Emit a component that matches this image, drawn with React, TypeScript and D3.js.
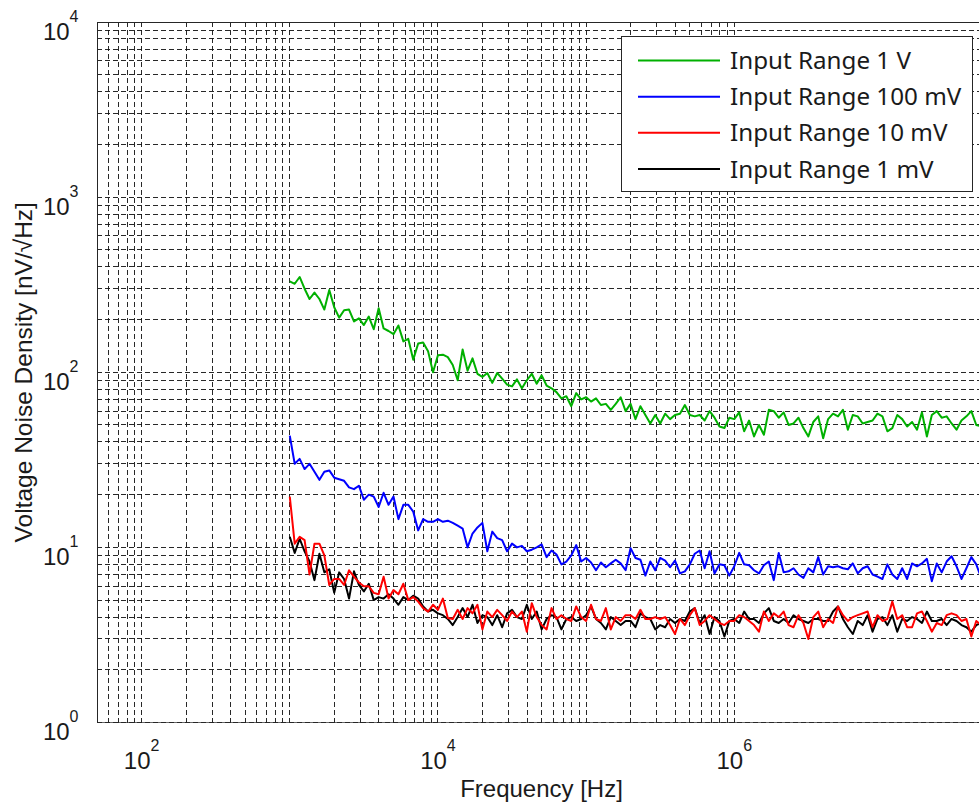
import React from "react";
import * as d3 from "d3";

// Sampling grid: log-spaced frequencies starting at 1 kHz, 30 points per decade
const FREQ_START = 1000;
const POINTS_PER_DECADE = 30;

const range1V = [
  330, 320, 350, 300, 262, 285, 262, 228, 295, 235, 205, 226, 228, 195, 203, 186, 208, 176, 232, 178,
  172, 165, 185, 150, 155, 118, 146, 148, 132, 100, 125, 126, 122, 110, 90, 135, 102, 120, 98, 94,
  99, 87, 99, 92, 85, 83, 91, 81, 90, 98, 86, 96, 84, 81, 77, 71, 73, 64, 76, 70,
  72, 68, 71, 65, 66, 61, 66, 72, 60, 66, 54, 64, 57, 51, 57, 51, 58, 54, 57, 58,
  65, 57, 56, 57, 53, 60, 55, 49, 48, 55, 54, 59, 46, 53, 43, 50, 44, 61, 60, 55,
  59, 50, 51, 55, 48, 43, 52, 56, 42, 54, 58, 56, 61, 47, 57, 56, 51, 52, 53, 58,
  56, 46, 48, 57, 54, 49, 52, 47, 59, 43, 57, 60, 55, 56, 51, 47, 53, 56, 60, 50,
  49,
];

const range100mV = [
  43.5, 30, 32, 28, 30, 27, 24.3, 27, 27.5, 25, 24.5, 24, 22, 21.5, 22.5, 18.7, 20, 19.5, 17, 20.5,
  17.5, 19.5, 14.5, 17.5, 17.5, 16, 12.5, 14.5, 14, 14, 14.5, 14, 14.2, 13.8, 13.3, 12.8, 10, 12, 13, 13.8,
  9.5, 12.3, 11.3, 11, 9.5, 10.5, 10, 10.2, 9.5, 9.7, 10, 10.4, 8.8, 9.6, 9.1, 8.0, 8.3, 9.0, 10.3, 8.3,
  8.7, 8.2, 7.4, 8.2, 7.7, 8.1, 8.5, 8.1, 7.4, 9.9, 8.7, 8.5, 6.9, 8.3, 7.4, 8.7, 8.4, 7.7, 8.4, 7.1,
  7.3, 8.0, 9.2, 9.6, 7.6, 9.5, 7.1, 8.0, 7.9, 6.9, 7.8, 9.3, 8.0, 7.9, 7.4, 7.1, 7.9, 8.3, 6.5, 9.3,
  7.2, 7.3, 7.6, 7.0, 6.7, 7.6, 7.2, 8.8, 7.0, 7.8, 7.7, 7.8, 7.6, 7.5, 8.1, 7.1, 7.6, 7.8, 7.0, 6.8,
  6.6, 8.0, 7.0, 6.6, 7.6, 6.6, 8.1, 7.8, 8.1, 8.6, 6.4, 8.1, 7.2, 8.3, 8.9, 7.8, 6.6, 7.6, 8.8, 8.0,
  6.7,
];

const range10mV = [
  19.5, 10.5, 11.5, 11, 7.0, 10.5, 10.5, 9.0, 6.1, 6.6, 6.6, 6.1, 7.4, 6.8, 6.3, 6.0, 6.0, 5.5, 5.4, 6.8,
  5.1, 5.7, 5.4, 6.2, 5.0, 5.2, 4.9, 4.5, 4.3, 4.7, 4.4, 5.1, 3.95, 3.9, 4.4, 3.9, 4.5, 4.2, 4.7, 3.4,
  4.3, 4.0, 4.4, 4.1, 3.8, 4.3, 4.0, 4.3, 3.3, 4.8, 4.0, 3.6, 3.4, 4.5, 3.9, 4.1, 3.9, 3.8, 4.6, 4.0,
  3.8, 4.7, 3.9, 3.8, 4.5, 3.4, 4.0, 3.8, 4.1, 4.1, 3.9, 4.4, 3.9, 3.9, 4.0, 3.9, 4.0, 3.6, 3.2, 3.9,
  3.6, 4.1, 4.5, 3.6, 3.8, 4.1, 3.9, 3.7, 3.6, 3.8, 3.8, 4.1, 4.0, 3.8, 3.6, 3.3, 4.3, 3.8, 4.2, 4.0,
  4.3, 3.6, 3.5, 4.1, 3.7, 3.0, 4.0, 4.3, 3.5, 3.9, 3.7, 4.6, 4.1, 3.8, 4.0, 4.1, 4.2, 4.3, 3.5, 4.1,
  3.8, 3.9, 4.9, 3.9, 4.1, 3.5, 3.5, 4.2, 4.3, 3.8, 3.3, 3.7, 3.6, 4.1, 4.2, 4.1, 3.8, 3.9, 3.1, 3.8,
  3.6,
];

const range1mV = [
  11.5, 9.3, 11.2, 9.5, 8.3, 6.5, 9.2, 7.2, 7.5, 5.5, 7.2, 6.6, 5.1, 7.3, 6.1, 5.6, 6.2, 5.0, 5.2, 5.1,
  5.4, 5.1, 4.7, 5.2, 5.0, 5.3, 5.1, 4.6, 4.3, 4.4, 4.2, 4.1, 3.9, 3.6, 4.0, 4.5, 4.0, 4.7, 3.7, 4.1,
  4.0, 3.6, 4.1, 3.5, 4.2, 4.4, 4.0, 3.9, 4.7, 3.9, 4.3, 3.4, 3.9, 4.1, 4.0, 3.4, 3.9, 4.0, 3.8, 3.9,
  4.1, 4.6, 3.9, 3.7, 3.4, 4.0, 3.8, 3.6, 3.8, 3.8, 3.5, 4.2, 4.0, 3.9, 3.4, 3.6, 3.5, 3.9, 3.7, 3.9,
  3.8, 4.3, 4.5, 3.7, 4.1, 3.2, 4.0, 3.8, 3.1, 3.8, 3.9, 3.7, 4.3, 3.9, 3.9, 3.7, 4.2, 4.5, 3.8, 3.7,
  3.9, 3.7, 4.1, 3.9, 3.8, 3.7, 3.9, 3.9, 3.8, 3.8, 4.3, 4.6, 3.9, 3.5, 3.2, 3.8, 3.6, 4.1, 3.3, 3.9,
  4.0, 3.6, 4.1, 3.3, 3.9, 3.8, 4.0, 3.9, 3.7, 4.3, 3.8, 3.8, 3.9, 3.6, 3.9, 3.8, 3.6, 3.5, 3.3, 3.6,
  3.7,
];

const seriesNames = ["Input Range 1 V", "Input Range 100 mV", "Input Range 10 mV", "Input Range 1 mV"];
const seriesColors = ["#00b000", "#0000ff", "#ff0000", "#000000"];
const seriesValues = [range1V, range100mV, range10mV, range1mV];
const drawOrder = [0, 1, 3, 2];

const xDomain = [50, 5e7];
const yDomain = [1, 1e4];
const xMajorExponents = [2, 4, 6];
const yMajorExponents = [0, 1, 2, 3, 4];
const xGridMax = 1e6;

const xLabel = "Frequency [Hz]";
const yLabel = "Voltage Noise Density [nV/\u221AHz]";

const W = 979;
const H = 802;
const left = 97;
const right = 986;
const top = 22;
const bottom = 722.5;

export default function App() {
  const x = d3.scaleLog().domain(xDomain).range([left, right]);
  const y = d3.scaleLog().domain(yDomain).range([bottom, top]);

  const xGrid: number[] = [];
  for (let k = 1; k <= 6; k++) {
    for (let m = 1; m <= 9; m++) {
      const v = m * Math.pow(10, k);
      if (v >= xDomain[0] && v <= xGridMax) xGrid.push(v);
    }
  }
  const yGrid: number[] = [];
  for (let k = 0; k <= 3; k++) {
    for (let m = 1; m <= 9; m++) yGrid.push(m * Math.pow(10, k));
  }
  yGrid.push(1e4);

  const freqs = range1V.map((_, i) => FREQ_START * Math.pow(10, i / POINTS_PER_DECADE));
  const line = d3
    .line<number>()
    .x((_, i) => x(freqs[i]))
    .y((d) => y(d));

  const gridStyle = {
    stroke: "#111",
    strokeOpacity: 0.9,
    strokeWidth: 1,
    strokeDasharray: "5,3",
    shapeRendering: "crispEdges" as const,
  };

  const legendX = 621.5;
  const legendY = 36.5;
  const legendW = 351;
  const legendH = 154.5;
  const rowY = [60.5, 96.7, 132.8, 169];

  return (
    <svg
      width={W}
      height={H}
      style={{ position: "absolute", left: 0, top: 0, background: "#fff" }}
      fontFamily="'Liberation Sans', Arial, sans-serif"
    >
      <defs>
        <clipPath id="plotClip">
          <rect x={left} y={top} width={right - left} height={bottom - top} />
        </clipPath>
      </defs>
      <rect x={0} y={0} width={W} height={H} fill="#fff" />
      {/* grid */}
      <g>
        {yGrid.map((v) => (
          <line key={"gy" + v} x1={left} x2={right} y1={y(v)} y2={y(v)} {...gridStyle} />
        ))}
        {xGrid.map((v) => (
          <line key={"gx" + v} x1={x(v)} x2={x(v)} y1={top} y2={bottom} {...gridStyle} />
        ))}
      </g>
      {/* axes box */}
      <g stroke="#262626" strokeWidth={1} shapeRendering="crispEdges">
        <line x1={left} x2={left} y1={top} y2={bottom} />
        <line x1={left} x2={right} y1={top} y2={top} />
        <line x1={left} x2={right} y1={bottom} y2={bottom} strokeOpacity={0.7} />
      </g>
      {/* series */}
      <g clipPath="url(#plotClip)">
        {drawOrder.map((s) => (
          <path
            key={"s" + s}
            d={line(seriesValues[s]) || ""}
            fill="none"
            stroke={seriesColors[s]}
            strokeWidth={2}
            strokeLinejoin="round"
          />
        ))}
      </g>
      {/* tick labels */}
      <g fill="#1a1a1a">
        {yMajorExponents.map((e) => (
          <text key={"yt" + e} x={78.5} y={y(Math.pow(10, e)) + 17.5} textAnchor="end" fontSize={24}>
            <tspan>10</tspan>
            <tspan dy={-18} fontSize={16}>
              {e}
            </tspan>
          </text>
        ))}
        {xMajorExponents.map((e) => (
          <text key={"xt" + e} x={x(Math.pow(10, e))} y={769} textAnchor="middle" fontSize={24}>
            <tspan>10</tspan>
            <tspan dy={-18} fontSize={16}>
              {e}
            </tspan>
          </text>
        ))}
      </g>
      {/* axis labels */}
      <text x={541.5} y={796.5} textAnchor="middle" fontSize={24} fill="#1a1a1a">
        {xLabel}
      </text>
      <text
        transform={`translate(31.5, ${(top + bottom) / 2}) rotate(-90)`}
        textAnchor="middle"
        fontSize={24.5}
        fill="#1a1a1a"
      >
        {yLabel}
      </text>
      {/* legend */}
      <g>
        <rect
          x={legendX}
          y={legendY}
          width={legendW}
          height={legendH}
          fill="#fff"
          stroke="#262626"
          strokeWidth={1}
          shapeRendering="crispEdges"
        />
        {seriesNames.map((name, i) => (
          <g key={"lg" + i}>
            <line x1={638} x2={720} y1={rowY[i]} y2={rowY[i]} stroke={seriesColors[i]} strokeWidth={2} />
            <text x={730} y={rowY[i] + 8.5} fontSize={24.2} fontFamily="'Noto Sans', sans-serif" fill="#1a1a1a">
              {name}
            </text>
          </g>
        ))}
      </g>
    </svg>
  );
}
